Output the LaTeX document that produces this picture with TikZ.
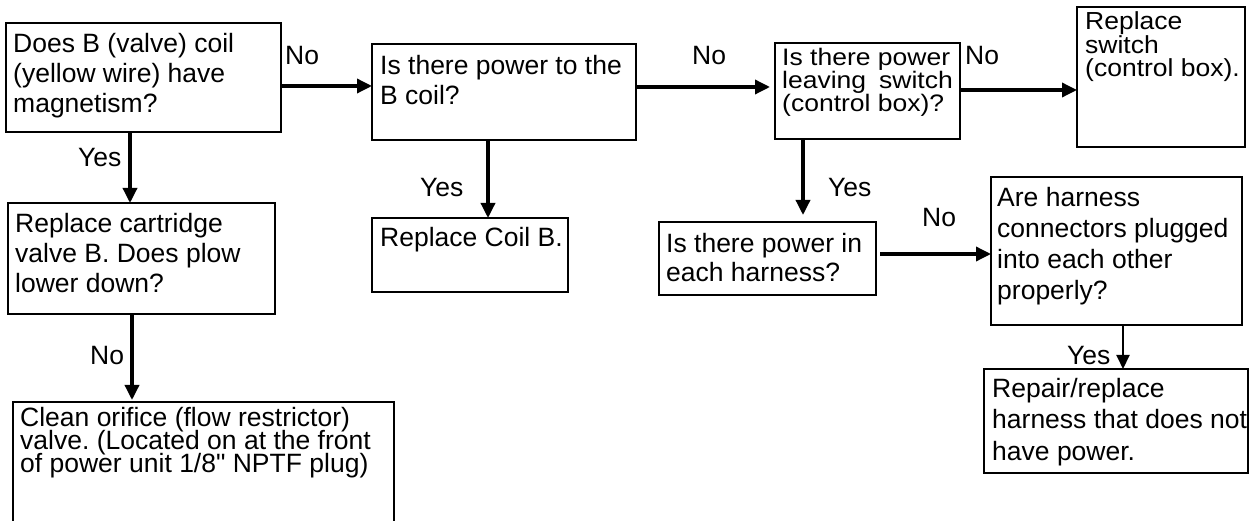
\documentclass[tikz,border=0pt]{standalone}
\usepackage{graphicx}
\usepackage{fontspec}
\setmainfont{Liberation Sans}[Ligatures=TeXOff]
\usetikzlibrary{arrows.meta}
\frenchspacing
\newcommand\fsz[1]{\fontsize{26.5}{#1}\selectfont\lineskiplimit=-100pt\lineskip=0pt\frenchspacing}
% vertically squeezed multi-line text: #1 vertical scale, #2 baselineskip (before scaling), #3 text
\newcommand\sqtext[3]{\scalebox{1}[#1]{\parbox[b]{240pt}{\fsz{#2}#3}}}
\begin{document}
\begin{tikzpicture}[x=1pt,y=-1pt,
  box/.style={draw=black, line width=2.2pt, inner sep=0pt, outer sep=0pt},
  txt/.style={anchor=base west, inner sep=0pt, align=left, font=\fsz{#1}},
  lbl/.style={anchor=base west, inner sep=0pt, font=\fsz{30}},
  arr/.style={line width=3.4pt, -{Triangle[width=14pt,length=15pt]}},
  thinarr/.style={line width=2pt, -{Triangle[width=13pt,length=14pt]}}]
\useasboundingbox (0,0) rectangle (1251,521);
% boxes
\node[box, minimum width=275pt, minimum height=109pt] (b1) at (143.5,77.5) {};
\node[box, minimum width=264pt, minimum height=96pt] (b2) at (504,92) {};
\node[box, minimum width=185pt, minimum height=96pt] (b3) at (867.5,91) {};
\node[box, minimum width=168pt, minimum height=140pt] (b4) at (1161,77) {};
\node[box, minimum width=267pt, minimum height=111pt] (b5) at (141.5,258.5) {};
\node[box, minimum width=381pt, minimum height=138pt] (b6) at (203.5,471) {};
\node[box, minimum width=196pt, minimum height=74pt] (bc) at (470,255) {};
\node[box, minimum width=217pt, minimum height=73pt] (b7) at (767.5,258.5) {};
\node[box, minimum width=251pt, minimum height=148pt] (b8) at (1116.5,251) {};
\node[box, minimum width=264pt, minimum height=104pt] (b9) at (1116,421) {};
% texts (anchored at the baseline of their last line)
\node[txt=30] (b1t) at (13,113) {Does B (valve) coil\\(yellow wire) have\\magnetism?};
\node[txt=30] (b2t) at (380,105) {Is there power to the\\B coil?};
\node[txt=25.6] (b3t) at (782,112) {\sqtext{0.9}{25.6}{Is there power\\leaving\hspace{13pt}switch\\(control box)?}};
\node[txt=25.8] (b4t) at (1085,77) {\sqtext{0.93}{25.8}{Replace\\switch\\(control box).}};
\node[txt=30] (b5t) at (15,293) {Replace cartridge\\valve B. Does plow\\lower down?};
\node[txt=23] (b6t) at (20,472) {Clean orifice (flow restrictor)\\valve. (Located on at the front\\of power unit 1/8" NPTF plug)};
\node[txt=30] (bct) at (380,247) {Replace Coil B.};
\node[txt=29] (b7t) at (666,282) {Is there power in\\each harness?};
\node[txt=31] (b8t) at (997,300) {Are harness\\connectors plugged\\into each other\\properly?};
\node[txt=31.5] (b9t) at (992,460) {Repair/replace\\harness that does not\\have power.};
% connectors
\draw[arr] ([yshift=-8.5pt]b1.east) -- ([yshift=6pt]b2.west);
\draw[arr] ([yshift=5pt]b2.east) -- ([yshift=4pt,xshift=-5pt]b3.west);
\draw[arr] ([yshift=1pt]b3.east) -- ([yshift=-13pt]b4.west);
\draw[arr] ([xshift=-13.5pt]b1.south) -- ([xshift=-11.5pt]b5.north);
\draw[arr] ([xshift=-9.5pt]b5.south) -- ([xshift=-71.5pt,yshift=2pt]b6.north);
\draw[arr] ([xshift=-16pt]b2.south) -- ([xshift=18pt]bc.north);
\draw[arr] ([xshift=-64.5pt]b3.south) -- ([xshift=35.5pt,yshift=7pt]b7.north);
\draw[arr] ([xshift=4pt,yshift=4.5pt]b7.east) -- ([yshift=-3pt]b8.west);
\draw[thinarr] ([xshift=6.5pt]b8.south) -- ([xshift=7pt]b9.north);
% labels
\node[lbl] (l1) at (285,65) {No};
\node[lbl] (l2) at (78,167) {Yes};
\node[lbl] (l3) at (692,65) {No};
\node[lbl] (l4) at (420,197) {Yes};
\node[lbl] (l5) at (965,65) {No};
\node[lbl] (l6) at (90,365) {No};
\node[lbl] (l7) at (828,197) {Yes};
\node[lbl] (l8) at (922,227) {No};
\node[lbl] (l9) at (1067,365) {Yes};
\end{tikzpicture}
\end{document}
